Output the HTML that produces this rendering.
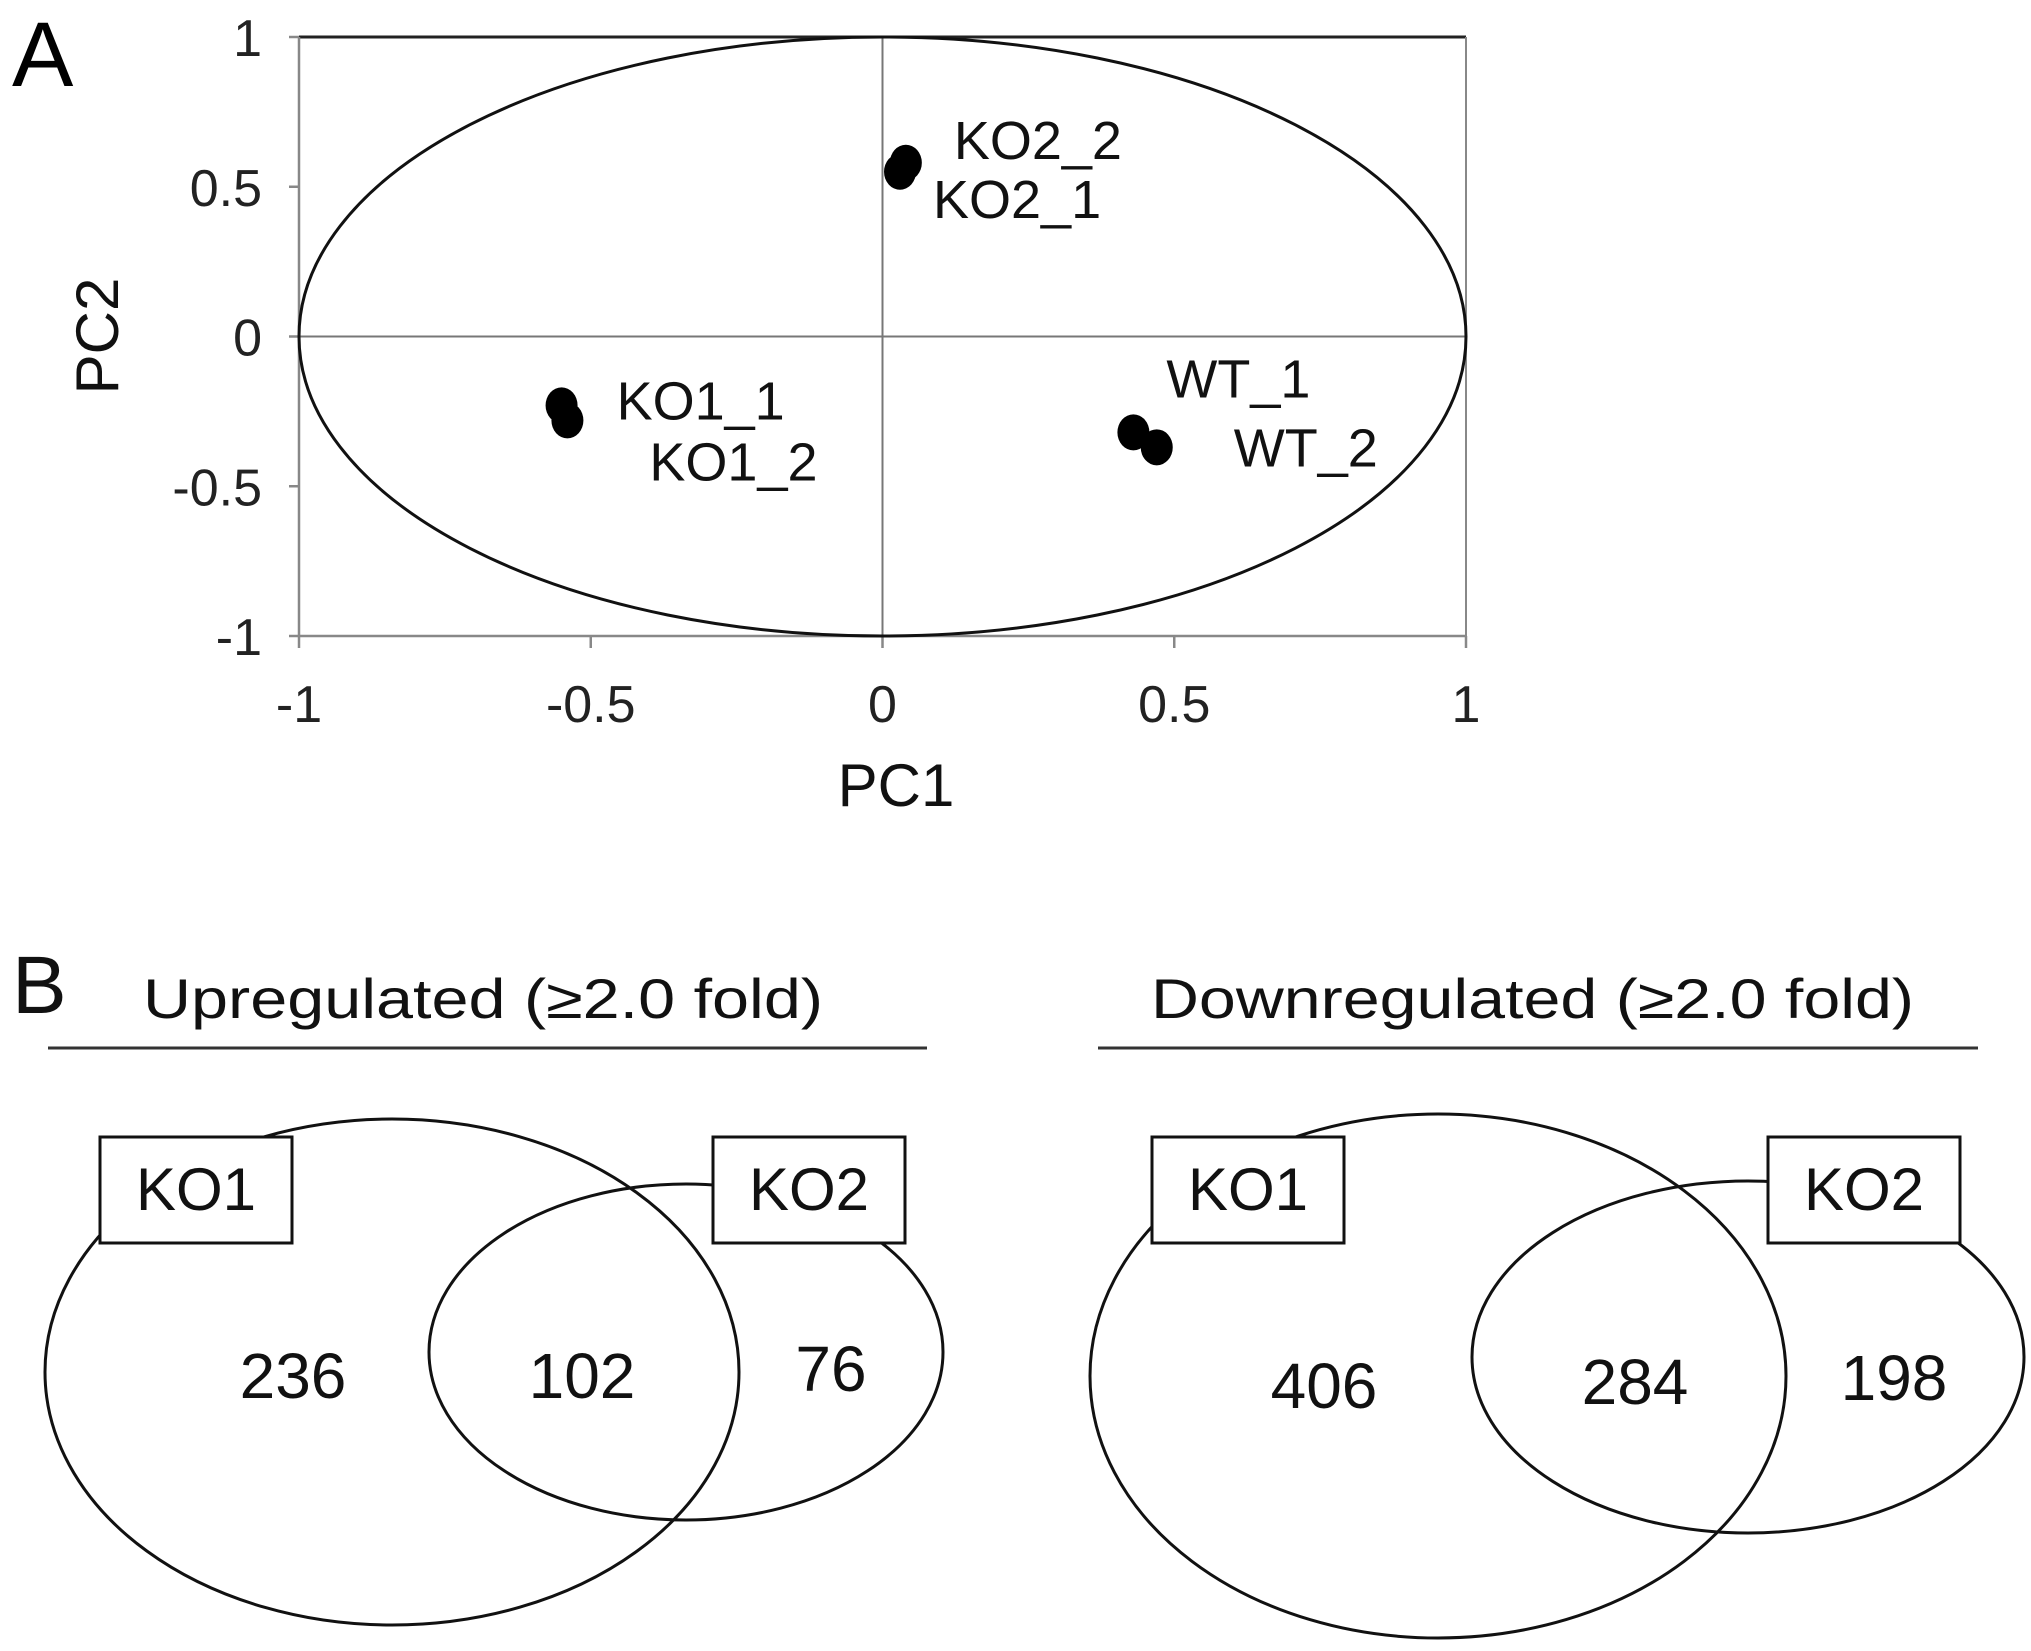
<!DOCTYPE html>
<html><head><meta charset="utf-8"><style>
html,body{margin:0;padding:0;background:#fff;}
svg{display:block;font-family:"Liberation Sans",Arial,sans-serif;}
</style></head><body>
<svg id="fig" width="2031" height="1651" viewBox="0 0 2031 1651">
<text x="12" y="86" font-size="92">A</text>
<g id="pca"></g>
<g id="venns"></g>
</svg>
<script>
const ticks = [-1, -0.5, 0, 0.5, 1];
const tickLabels = ["-1", "-0.5", "0", "0.5", "1"];
const sampleNames = ["KO2_2", "KO2_1", "KO1_1", "KO1_2", "WT_1", "WT_2"];
const pc1Values = [0.04, 0.03, -0.55, -0.54, 0.43, 0.47];
const pc2Values = [0.58, 0.55, -0.23, -0.28, -0.32, -0.37];
const labelDx = [48, 33, 55, 82, 33, 77];
const labelDy = [-4, 46, 14, 60, -35, 19];

const NS = "http://www.w3.org/2000/svg";
function mk(tag, attrs, parent, text) {
  const e = document.createElementNS(NS, tag);
  for (const k in attrs) e.setAttribute(k, attrs[k]);
  if (text !== undefined) e.textContent = text;
  parent.appendChild(e);
  return e;
}
const X0 = 299, X1 = 1466, Y0 = 636, Y1 = 37;
const sx = v => X0 + (v + 1) / 2 * (X1 - X0);
const sy = v => Y0 - (v + 1) / 2 * (Y0 - Y1);
const g = document.getElementById("pca");

let l = mk("line", {x1: sx(0), x2: sx(0), y1: sy(-1), y2: sy(1), stroke: "#777", "stroke-width": 2}, g);


l = mk("line", {x1: sx(-1), x2: sx(1), y1: sy(0), y2: sy(0), stroke: "#777", "stroke-width": 2}, g);


l = mk("line", {x1: sx(-1), x2: sx(1), y1: sy(1), y2: sy(1), stroke: "#222", "stroke-width": 3}, g);


l = mk("line", {x1: sx(1), x2: sx(1), y1: sy(1), y2: sy(-1), stroke: "#888", "stroke-width": 2}, g);


l = mk("line", {x1: sx(-1), x2: sx(-1), y1: sy(1), y2: sy(-1), stroke: "#888", "stroke-width": 2.5}, g);


l = mk("line", {x1: sx(-1), x2: sx(1), y1: sy(-1), y2: sy(-1), stroke: "#888", "stroke-width": 2.5}, g);



ticks.forEach((t, i) => {
  let tk = mk("line", {x1: sx(-1) - 10, x2: sx(-1), y1: sy(t), y2: sy(t), stroke: "#888", "stroke-width": 2.5}, g);
  
  
  let tl = mk("text", {x: 262, y: sy(t) + 19, "font-size": 52, "text-anchor": "end", fill: "#222"}, g, tickLabels[i]);
  
  
  tk = mk("line", {x1: sx(t), x2: sx(t), y1: sy(-1), y2: sy(-1) + 12, stroke: "#888", "stroke-width": 2.5}, g);
  
  
  tl = mk("text", {x: sx(t), y: 722, "font-size": 52, "text-anchor": "middle", fill: "#222"}, g, tickLabels[i]);
  
  
});

let ell = mk("ellipse", {cx: sx(0), cy: sy(0), rx: (X1 - X0) / 2, ry: (Y0 - Y1) / 2, fill: "none", stroke: "#111", "stroke-width": 3}, g);



pc1Values.forEach((v, i) => {
  const cx = sx(v), cy = sy(pc2Values[i]);
  const p = mk("ellipse", {cx: cx, cy: cy, rx: 16, ry: 18, fill: "#000"}, g);
  
  
  const t = mk("text", {x: cx + labelDx[i], y: cy + labelDy[i], "font-size": 54, fill: "#111"}, g, sampleNames[i]);
  
  
});

let at = mk("text", {x: 896, y: 806, "font-size": 60, "text-anchor": "middle", fill: "#111"}, g, "PC1");


at = mk("text", {x: 0, y: 0, "font-size": 60, "text-anchor": "middle", fill: "#111", transform: "translate(118,336) rotate(-90)"}, g, "PC2");



const vennTitles = ["Upregulated (\u22652.0 fold)", "Downregulated (\u22652.0 fold)"];
const ko1Only = [236, 406];
const overlap = [102, 284];
const ko2Only = [76, 198];
const vg = document.getElementById("venns");
let b = mk("text", {x: 12, y: 1013, "font-size": 82, fill: "#111"}, vg, "B");


const layouts = [
  {tx: 143, tw: 680, lx1: 48, lx2: 927, e1: [392, 1372, 347, 253], e2: [686, 1352, 257, 168], b1: 100, b2: 713, n1: 293, n2: 582, n3: 831, ny: [1398, 1398, 1391]},
  {tx: 1151, tw: 763, lx1: 1098, lx2: 1978, e1: [1438, 1376, 348, 262], e2: [1748, 1357, 276, 176], b1: 1152, b2: 1768, n1: 1324, n2: 1635, n3: 1894, ny: [1408, 1404, 1400]}
];
layouts.forEach((L, i) => {
  const grp = mk("g", {}, vg);
  
  
  let t = mk("text", {x: L.tx, y: 1018, "font-size": 56, textLength: L.tw, lengthAdjust: "spacingAndGlyphs", fill: "#111"}, grp, vennTitles[i]);
  
  
  let ln = mk("line", {x1: L.lx1, x2: L.lx2, y1: 1048, y2: 1048, stroke: "#333", "stroke-width": 3}, grp);
  
  
  let e = mk("ellipse", {cx: L.e1[0], cy: L.e1[1], rx: L.e1[2], ry: L.e1[3], fill: "none", stroke: "#111", "stroke-width": 3}, grp);
  
  
  e = mk("ellipse", {cx: L.e2[0], cy: L.e2[1], rx: L.e2[2], ry: L.e2[3], fill: "none", stroke: "#111", "stroke-width": 3}, grp);
  
  
  [[L.b1, "KO1"], [L.b2, "KO2"]].forEach(([bx, lab]) => {
    const r = mk("rect", {x: bx, y: 1137, width: 192, height: 106, fill: "#fff", stroke: "#111", "stroke-width": 3}, grp);
    
    
    const tt = mk("text", {x: bx + 96, y: 1210, "font-size": 60, "text-anchor": "middle", fill: "#111"}, grp, lab);
    
    
  });
  [[L.n1, ko1Only[i], 'ko1-only-count'], [L.n2, overlap[i], 'overlap-count'], [L.n3, ko2Only[i], 'ko2-only-count']].forEach(([nx, val, nm], k) => {
    const tt = mk("text", {x: nx, y: L.ny[k], "font-size": 64, "text-anchor": "middle", fill: "#111"}, grp, String(val));
    
    
  });
});
</script>
</body></html>
